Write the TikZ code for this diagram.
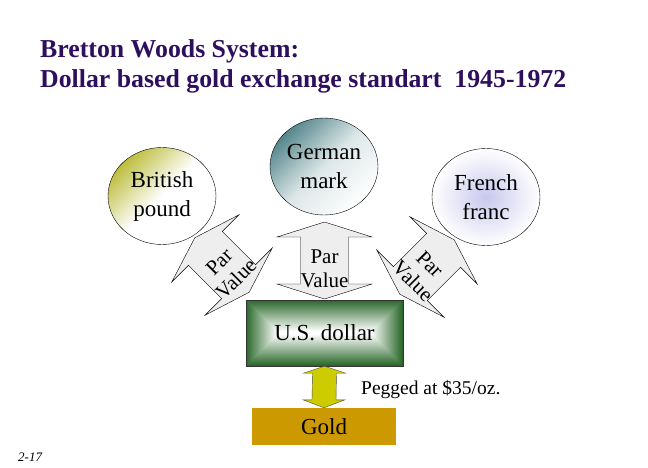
\documentclass[tikz,border=0pt]{standalone}
\usepackage{fontspec}
\setmainfont{Liberation Serif}
\usetikzlibrary{shapes.geometric,calc}
\definecolor{titlepurple}{HTML}{2E0F5E}
\definecolor{poundolive}{HTML}{BDBD3E}
\definecolor{markteal}{HTML}{55878C}
\definecolor{francviolet}{HTML}{C8C8EE}
\definecolor{dollargreen}{HTML}{2A682A}
\definecolor{goldfill}{HTML}{CC9900}
\definecolor{peggedfill}{HTML}{CCCC00}
\definecolor{parfill}{HTML}{EEEEEE}

\tikzset{
  coin/.style={ellipse, draw, thin, minimum width=108pt, minimum height=97pt,
               inner sep=0pt, align=center, font=\fontsize{23}{29}\selectfont},
  pararrow/.pic={
    \filldraw[fill=parfill, draw=black, thin]
      (0,-38.5) -- (47.5,-23.5) -- (24,-23.5) -- (24,23.5) -- (47.5,23.5) -- (0,38.5)
      -- (-47.5,23.5) -- (-24,23.5) -- (-24,-23.5) -- (-47.5,-23.5) -- cycle;
    \node[align=center, inner sep=0pt, font=\fontsize{21}{24}\selectfont] (-label) at (0,8) {Par\\Value};
  }
}

\begin{document}
\begin{tikzpicture}[x=1pt, y=-1pt]
    \useasboundingbox (0,0) rectangle (648,468);
    % title
        \node[anchor=base west, inner sep=0pt, text=titlepurple, font=\bfseries\fontsize{25.8}{30}\selectfont] (title1) at (40,58) {Bretton Woods System:};
        \node[anchor=base west, inner sep=0pt, text=titlepurple, font=\bfseries\fontsize{25.8}{30}\selectfont] (title2) at (40,88) {Dollar based gold exchange standart\ \ 1945-1972};
    % currencies
        \node[coin, top color=poundolive, bottom color=white, middle color=white, shading angle=45] (pound) at (162,196) {British\\pound};
        \node[coin, top color=markteal, bottom color=white, middle color=markteal!20!white, shading angle=45] (mark) at (324,166.5) {German\\mark};
        \node[coin, inner color=francviolet, outer color=white] (franc) at (486,197) {French\\franc};
    % par value arrows
        \pic[transform shape, rotate=45] (leftpar) at (222,265) {pararrow};
        \pic (midpar) at (324.5,260.5) {pararrow};
        \pic[transform shape, rotate=-45] (rightpar) at (427,267) {pararrow};
    % dollar box
        \foreach \i [evaluate=\i as \glow using {max(0,100-3.2*\i)}] in {0,...,32}
            \fill[dollargreen!\glow!white] (246+\i,300+\i) rectangle (403-\i,366-\i);
        \node[draw=black!80, minimum width=157pt, minimum height=66pt, inner sep=0pt, font=\fontsize{23}{26}\selectfont] (dollar) at (324.5,333) {U.S. dollar};
    % gold
        \node[fill=goldfill, minimum width=144pt, minimum height=37pt, inner sep=0pt, font=\fontsize{23}{26}\selectfont] (gold) at (324,426.5) {Gold};
        \filldraw[fill=peggedfill, draw=black!70]
            (dollar.south) -- ($(dollar.south)+(21,7)$) -- ($(dollar.south)+(12,7)$)
            -- ($(gold.north)+(12,-8)$) -- ($(gold.north)+(21,-8)$) -- (gold.north)
            -- ($(gold.north)+(-21,-8)$) -- ($(gold.north)+(-12,-8)$)
            -- ($(dollar.south)+(-12,7)$) -- ($(dollar.south)+(-21,7)$) -- cycle;
        \node[anchor=base west, inner sep=0pt, font=\fontsize{19.5}{22}\selectfont] (pegged) at (361,394) {Pegged at \$35/oz.};
    % page number
        \node[anchor=base west, inner sep=0pt, font=\itshape\fontsize{13}{15}\selectfont] (pageno) at (18,461) {2-17};
\end{tikzpicture}
\end{document}
